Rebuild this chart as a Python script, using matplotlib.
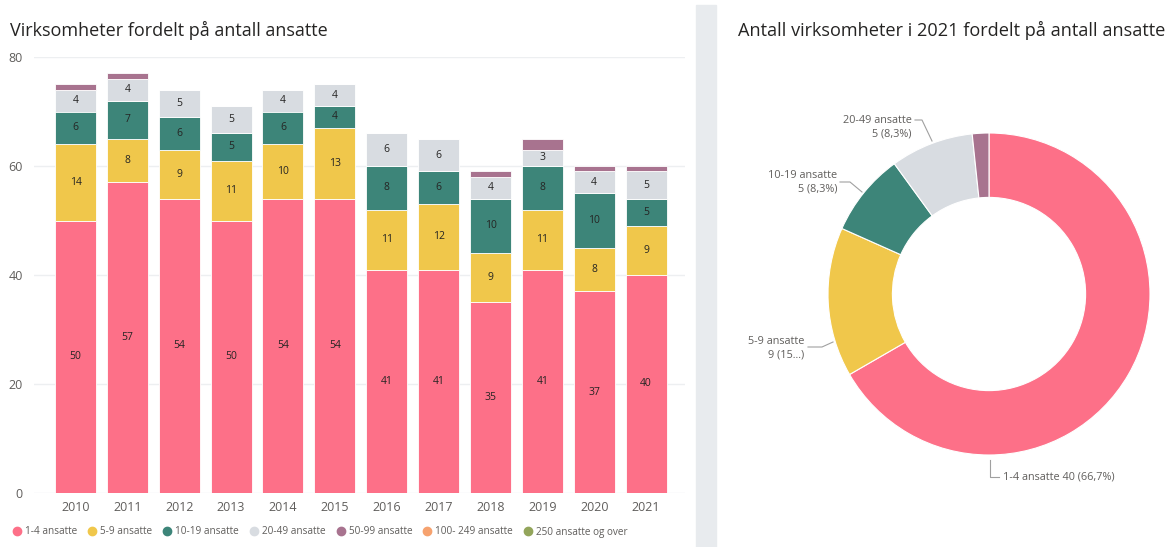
import numpy as np
import matplotlib.pyplot as plt
from matplotlib.patches import Rectangle
from matplotlib.lines import Line2D

plt.rcParams['font.family'] = ['Open Sans', 'DejaVu Sans']

years = ['2010', '2011', '2012', '2013', '2014', '2015', '2016', '2017', '2018', '2019', '2020', '2021']
a_1_4 = [50, 57, 54, 50, 54, 54, 41, 41, 35, 41, 37, 40]
a_5_9 = [14, 8, 9, 11, 10, 13, 11, 12, 9, 11, 8, 9]
a_10_19 = [6, 7, 6, 5, 6, 4, 8, 6, 10, 8, 10, 5]
a_20_49 = [4, 4, 5, 5, 4, 4, 6, 6, 4, 3, 4, 5]
a_50_99 = [1, 1, 0, 0, 0, 0, 0, 0, 1, 2, 1, 1]

groups = ['1-4 ansatte', '5-9 ansatte', '10-19 ansatte', '20-49 ansatte',
          '50-99 ansatte', '100- 249 ansatte', '250 ansatte og over']
colors = ['#FD7088', '#F0C74B', '#3D8579', '#D8DCE1', '#A8738F', '#F6A26F', '#93A55B']

pie_values = [40, 9, 5, 5, 1]
pie_labels = ['1-4 ansatte 40 (66,7%)', '5-9 ansatte\n9 (15...)', '10-19 ansatte\n5 (8,3%)',
              '20-49 ansatte\n5 (8,3%)', '']

W, H = 1175, 547
fig = plt.figure(figsize=(W / 100, H / 100), dpi=100)

def px(x0, y0, x1, y1):
    # pixel box -> figure fraction
    return [x0 / W, 1 - y1 / H, (x1 - x0) / W, (y1 - y0) / H]

# --- stacked bars ---
ax = fig.add_axes(px(34, 57, 685, 493))
x = np.arange(len(years))
bottom = np.zeros(len(years))
series = [a_1_4, a_5_9, a_10_19, a_20_49, a_50_99]
for vals, c in zip(series, colors):
    vals = np.array(vals, dtype=float)
    ax.bar(x, vals, bottom=bottom, width=0.79, color=c, edgecolor='white', linewidth=0.6, zorder=2)
    for xi, b, v in zip(x, bottom, vals):
        if v >= 3:
            ax.text(xi, b + v / 2, f'{int(v)}', ha='center', va='center', fontsize=7.5, color='#252423')
    bottom += vals

ax.set_xlim(-0.8, 11.75)
ax.set_ylim(0, 80)
ax.set_yticks([0, 20, 40, 60, 80])
ax.set_xticks(x)
ax.set_xticklabels(years)
ax.grid(axis='y', color='#EDEFF1', linewidth=1, zorder=0)
for s in ax.spines.values():
    s.set_visible(False)
ax.tick_params(length=0, labelsize=9, colors='#605E5C', pad=6)
ax.tick_params(axis='y', pad=8)

fig.text(10 / W, 1 - 30 / H, 'Virksomheter fordelt på antall ansatte', fontsize=13,
         color='#252423', va='center', ha='left')

handles = [Line2D([], [], marker='o', linestyle='', markersize=6, color=c) for c in colors]
fig.legend(handles, groups, loc='center left', bbox_to_anchor=(3 / W, 1 - 532 / H), ncol=7,
           frameon=False, fontsize=7.2, handletextpad=-0.2, columnspacing=0.5,
           labelcolor='#605E5C', borderaxespad=0)

# separator panel
fig.patches.append(Rectangle((696 / W, 0), 20 / W, 1 - 5 / H, transform=fig.transFigure,
                             color='#E8EBEE', zorder=0))

# --- donut ---
R = 161
cx, cy = 989, 294
box = 200
ax2 = fig.add_axes(px(cx - box, cy - box, cx + box, cy + box))
ax2.pie(pie_values, colors=colors[:5], startangle=90, counterclock=False,
        wedgeprops=dict(width=0.4, edgecolor='white', linewidth=0.8))
ax2.set_xlim(-box / R, box / R)
ax2.set_ylim(-box / R, box / R)
ax2.set_aspect('equal')
ax2.axis('off')

def d(p, q):
    return ((p - cx) / R, (cy - q) / R)

lc = '#A0A0A0'
fs = 7.8
# 1-4
ax2.plot(*zip(d(990, 460), d(990, 477), d(999, 477)), color=lc, lw=0.8, clip_on=False)
ax2.text(*d(1003, 477), pie_labels[0], fontsize=fs, color='#605E5C', va='center', ha='left')
# 5-9
ax2.plot(*zip(d(808, 347), d(822, 347), d(833, 342)), color=lc, lw=0.8, clip_on=False)
ax2.text(*d(804, 348), pie_labels[1], fontsize=fs, color='#605E5C', va='center', ha='right',
         multialignment='right', linespacing=1.3)
# 10-19
ax2.plot(*zip(d(840, 182), d(850, 182), d(862, 192)), color=lc, lw=0.8, clip_on=False)
ax2.text(*d(837, 182), pie_labels[2], fontsize=fs, color='#605E5C', va='center', ha='right',
         multialignment='right', linespacing=1.3)
# 20-49
ax2.plot(*zip(d(915, 120), d(922, 120), d(932, 141)), color=lc, lw=0.8, clip_on=False)
ax2.text(*d(912, 127), pie_labels[3], fontsize=fs, color='#605E5C', va='center', ha='right',
         multialignment='right', linespacing=1.3)

fig.text(738 / W, 1 - 30 / H, 'Antall virksomheter i 2021 fordelt på antall ansatte', fontsize=13.1,
         color='#252423', va='center', ha='left')

fig.savefig('out.png', dpi=100)
